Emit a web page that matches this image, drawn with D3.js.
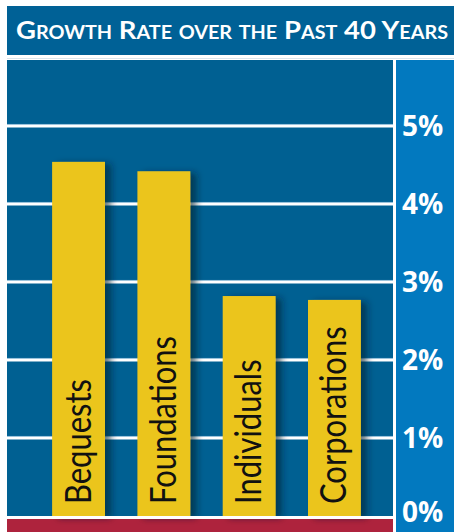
<!DOCTYPE html>
<html>
<head>
<meta charset="utf-8">
<script src="https://cdn.jsdelivr.net/npm/d3@7"></script>
<style>
  body { margin: 0; background: #fff; }
  svg { display: block; }
</style>
</head>
<body>
<svg id="chart" width="454" height="532"></svg>
<script>
// values (percent growth per year)
var categories = ["Bequests", "Foundations", "Individuals", "Corporations"];
var growth = [4.54, 4.42, 2.82, 2.77];
var tickValues = [0, 1, 2, 3, 4, 5];
var title = "Growth Rate over the Past 40 Years";

var svg = d3.select("#chart");

var plotLeft = 7, plotRight = 393, plotTop = 60, plotBottom = 516;

var defs = svg.append("defs");
var shadow = defs.append("filter").attr("id", "barShadow")
    .attr("x", "-20%").attr("y", "-20%").attr("width", "160%").attr("height", "140%");
shadow.append("feDropShadow")
    .attr("dx", 6).attr("dy", 2)
    .attr("stdDeviation", 3.5)
    .attr("flood-color", "#001a2e")
    .attr("flood-opacity", 0.6);

// title bar
svg.append("rect")
    .attr("x", 7).attr("y", 6).attr("width", 447).attr("height", 49)
    .attr("fill", "#006196");
svg.append("line")
    .attr("x1", 7).attr("x2", 454).attr("y1", 58.5).attr("y2", 58.5)
    .attr("stroke", "#d9e4ec").attr("stroke-width", 1);
svg.append("text")
    .attr("x", 16).attr("y", 39)
    .attr("fill", "#fff")
    .attr("font-family", "Lato, 'Open Sans', sans-serif")
    .attr("font-weight", "bold")
    .attr("font-size", 25)
    .style("font-variant", "small-caps")
    .attr("textLength", 432)
    .attr("lengthAdjust", "spacingAndGlyphs")
    .text(title);

// plot background, right panel, red base
svg.append("rect")
    .attr("x", plotLeft).attr("y", plotTop)
    .attr("width", plotRight - plotLeft).attr("height", plotBottom - plotTop)
    .attr("fill", "#006092");
svg.append("rect")
    .attr("x", 396).attr("y", plotTop).attr("width", 58).attr("height", 532 - plotTop)
    .attr("fill", "#0279bf");
svg.append("rect")
    .attr("x", plotLeft).attr("y", 519).attr("width", plotRight - plotLeft).attr("height", 13)
    .attr("fill", "#ae233d");

var y = d3.scaleLinear().domain([0, 5]).range([plotBottom, 126]);
var x = d3.scaleBand().domain(categories).range([18, 395])
    .paddingInner(0.38).paddingOuter(0.4);

// gridlines
var grid = svg.append("g");
grid.selectAll("line.glow")
    .data(tickValues.filter(function (d) { return d > 0; }))
    .enter().append("line")
    .attr("class", "glow")
    .attr("x1", plotLeft).attr("x2", plotRight)
    .attr("y1", function (d) { return y(d) - 1.6; })
    .attr("y2", function (d) { return y(d) - 1.6; })
    .attr("stroke", "#3d8fbf").attr("stroke-width", 1);
grid.selectAll("line.grid")
    .data(tickValues.filter(function (d) { return d > 0; }))
    .enter().append("line")
    .attr("class", "grid")
    .attr("x1", plotLeft).attr("x2", plotRight)
    .attr("y1", function (d) { return y(d); })
    .attr("y2", function (d) { return y(d); })
    .attr("stroke", "#fff").attr("stroke-width", 3);

// bars
svg.append("g").selectAll("rect")
    .data(categories)
    .enter().append("rect")
    .attr("x", function (d) { return x(d); })
    .attr("y", function (d, i) { return y(growth[i]); })
    .attr("width", x.bandwidth())
    .attr("height", function (d, i) { return plotBottom - y(growth[i]); })
    .attr("fill", "#ebc51e")
    .attr("filter", "url(#barShadow)");

// cover shadow spill below the plot
svg.append("rect")
    .attr("x", plotLeft).attr("y", plotBottom).attr("width", plotRight - plotLeft).attr("height", 3)
    .attr("fill", "#fff");
svg.append("rect")
    .attr("x", plotRight).attr("y", plotTop).attr("width", 3).attr("height", 532 - plotTop)
    .attr("fill", "#fff");

// bar labels
svg.append("g").selectAll("text")
    .data(categories)
    .enter().append("text")
    .attr("transform", function (d) {
        return "translate(" + (x(d) + x.bandwidth() / 2 + 12) + "," + 504 + ") rotate(-90) scale(0.86,1)";
    })
    .attr("fill", "#111")
    .attr("font-family", "Lato, 'Open Sans', sans-serif")
    .attr("font-size", 36)
    .text(function (d) { return d; });

// right axis labels
var axis = d3.axisRight(y).tickValues(tickValues)
    .tickFormat(function (d) { return d + "%"; })
    .tickSize(0).tickPadding(0);
var axisG = svg.append("g")
    .attr("transform", "translate(402,0)")
    .call(axis);
axisG.select(".domain").remove();
axisG.selectAll("text")
    .attr("fill", "#fff")
    .attr("font-family", "'Open Sans', Lato, sans-serif")
    .attr("font-weight", "bold")
    .attr("font-size", 28)
    .attr("dy", function (d) { return d === 0 ? "0.2em" : "0.33em"; });
</script>
</body>
</html>
